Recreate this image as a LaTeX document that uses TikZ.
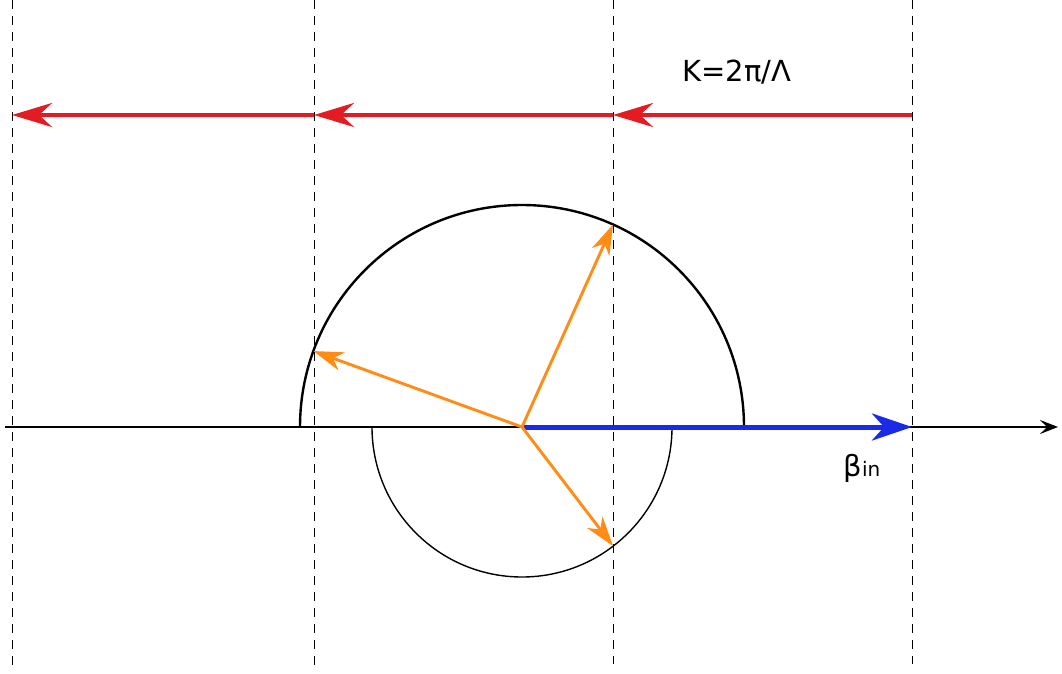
\documentclass[tikz,border=0pt]{standalone}
\usepackage{fontspec}
\setmainfont{DejaVu Sans}
\usetikzlibrary{arrows.meta, calc}
\definecolor{GratingRed}{HTML}{E31B23}
\definecolor{ModeBlue}{HTML}{1A2BE8}
\definecolor{WaveOrange}{HTML}{FF8C14}

\begin{document}
\begin{tikzpicture}[x=1pt, y=1pt]
\useasboundingbox (0,0) rectangle (1062,673);
% Points
\coordinate (c) at (522,246);
\coordinate (axl) at (5,246);
\coordinate (axr) at (1058,246);
\coordinate (bin) at (912,246);
\coordinate (k0) at (912,558);
\coordinate (k1) at (613,558);
\coordinate (k2) at (314,558);
\coordinate (k3) at (12,558);
% Dashed lines
\foreach \xv/\yv in {12/6, 314/6, 613/9, 912/9} {
  \draw[dashed, dash pattern=on 9pt off 7pt, line width=0.9pt] (\xv,673) -- (\xv,\yv);
}
% Axis
\draw[-{Stealth[length=18pt, width=14pt, inset=7pt]}, line width=1.2pt] (axl) -- (axr);
% Circles
\draw[line width=2.4pt] ($(c)+(-222,0)$) arc[start angle=180, end angle=0, radius=222];
\draw[line width=1.4pt] ($(c)+(-150,0)$) arc[start angle=180, end angle=360, radius=150];
% Grating vectors
\foreach \a/\b in {k0/k1, k1/k2, k2/k3} {
  \draw[GratingRed, line width=4.2pt, -{Stealth[length=40pt, width=24pt, inset=13pt]}] (\a) -- (\b);
}
\node[font=\fontsize{29}{34}\selectfont, anchor=base] (klabel) at (737,591) {K=2π/Λ};
% Incident mode
\draw[ModeBlue, line width=5pt, -{Stealth[length=40pt, width=27pt, inset=12pt]}] (c) -- (bin);
\node[font=\fontsize{29}{34}\selectfont, anchor=base west] (blabel) at (840,197) {β{\fontsize{20}{24}\selectfont in}};
% Diffracted waves
\coordinate (d1) at ($(c)+(65.8:222)$);
\coordinate (d2) at ($(c)+(160:222)$);
\coordinate (d3) at ($(c)+(-52.6:150)$);
\foreach \t in {d1, d2, d3} {
  \draw[WaveOrange, line width=2.9pt, -{Stealth[length=30pt, width=19pt, inset=9pt]}] (c) -- (\t);
}
\end{tikzpicture}
\end{document}
